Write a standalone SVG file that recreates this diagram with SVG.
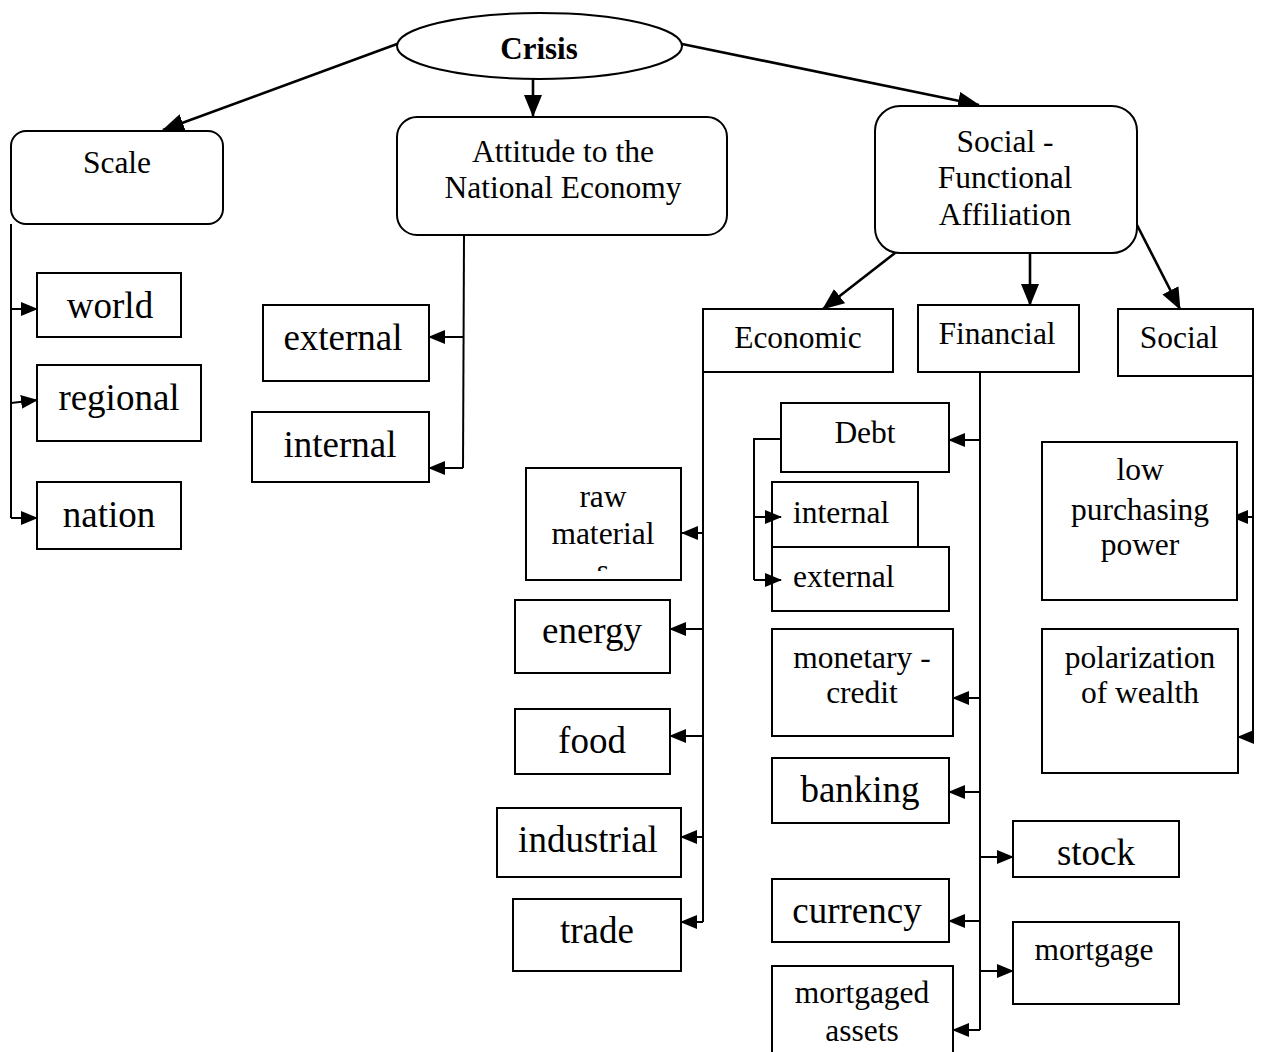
<svg xmlns="http://www.w3.org/2000/svg" width="1261" height="1052" viewBox="0 0 1261 1052">
  <style>
    .box { fill: #fff; stroke: #000; stroke-width: 2; }
    .t { font-family: "Liberation Serif", "Times New Roman", serif; fill: #000; text-anchor: middle; }
    .m { font-size: 31.5px; }
    .l { font-size: 37px; }
    .b { font-weight: bold; font-size: 31px; }
    .main { fill: none; stroke: #000; stroke-width: 2.6; }
    .trunk { fill: none; stroke: #000; stroke-width: 2; }
  </style>
  <defs>
    <marker id="ah" viewBox="0 0 22 18" refX="21" refY="9" markerWidth="22" markerHeight="18" orient="auto" markerUnits="userSpaceOnUse">
      <path d="M0,0 L22,9 L0,18 z" fill="#000"/>
    </marker>
    <marker id="as" viewBox="0 0 17 14" refX="16" refY="7" markerWidth="17" markerHeight="14" orient="auto" markerUnits="userSpaceOnUse">
      <path d="M0,0 L17,7 L0,14 z" fill="#000"/>
    </marker>
    <clipPath id="rawClip">
      <rect x="526" y="468" width="155" height="103"/>
    </clipPath>
  </defs>

  <rect width="1261" height="1052" fill="#fff"/>

  <!-- connectors -->
  <g id="connectors">
    <path class="main" marker-end="url(#ah)" d="M397,44 L163,130"/>
    <path class="main" marker-end="url(#ah)" d="M533,79 L533,116"/>
    <path class="main" marker-end="url(#ah)" d="M682,44 L979,105"/>
    <path class="main" marker-end="url(#ah)" d="M895,253 L823,309"/>
    <path class="main" marker-end="url(#ah)" d="M1030,254 L1030,305"/>
    <path class="main" marker-end="url(#ah)" d="M1137,225 L1180,309"/>

    <!-- scale branch -->
    <path class="trunk" d="M11,224 V518"/>
    <path class="trunk" marker-end="url(#as)" d="M11,309 H37"/>
    <path class="trunk" marker-end="url(#as)" d="M11,403 L37,400"/>
    <path class="trunk" marker-end="url(#as)" d="M11,518 H37"/>

    <!-- national economy branch -->
    <path class="trunk" d="M464,236 L463,468"/>
    <path class="trunk" marker-end="url(#as)" d="M463,337 H429"/>
    <path class="trunk" marker-end="url(#as)" d="M463,468 H429"/>

    <!-- economic branch -->
    <path class="trunk" d="M703,372 V922"/>
    <path class="trunk" marker-end="url(#as)" d="M703,533 H682"/>
    <path class="trunk" marker-end="url(#as)" d="M703,629 H670"/>
    <path class="trunk" marker-end="url(#as)" d="M703,736 H670"/>
    <path class="trunk" marker-end="url(#as)" d="M703,837 H681"/>
    <path class="trunk" marker-end="url(#as)" d="M703,922 H681"/>

    <!-- financial branch -->
    <path class="trunk" d="M980,372 V1030"/>
    <path class="trunk" marker-end="url(#as)" d="M980,440 H949"/>
    <path class="trunk" marker-end="url(#as)" d="M980,698 H953"/>
    <path class="trunk" marker-end="url(#as)" d="M980,792 H949"/>
    <path class="trunk" marker-end="url(#as)" d="M980,857 H1013"/>
    <path class="trunk" marker-end="url(#as)" d="M980,921 H949"/>
    <path class="trunk" marker-end="url(#as)" d="M980,971 H1013"/>
    <path class="trunk" marker-end="url(#as)" d="M980,1030 H953"/>

    <!-- social branch -->
    <path class="trunk" d="M1253,376 V737"/>
    <path class="trunk" marker-end="url(#as)" d="M1253,517 H1232"/>
    <path class="trunk" marker-end="url(#as)" d="M1253,737 H1238"/>
  </g>

  <!-- top level -->
  <g id="crisis">
    <ellipse class="box" cx="539.5" cy="46" rx="142.5" ry="33"/>
    <text class="t b" x="539" y="59">Crisis</text>
  </g>

  <g id="scale">
    <rect class="box" x="11" y="131" width="212" height="93" rx="15"/>
    <text class="t m" x="117" y="173">Scale</text>
  </g>
  <g id="world">
    <rect class="box" x="37" y="273" width="144" height="64"/>
    <text class="t l" x="110" y="318">world</text>
  </g>
  <g id="regional">
    <rect class="box" x="37" y="365" width="164" height="76"/>
    <text class="t l" x="119" y="410">regional</text>
  </g>
  <g id="nation">
    <rect class="box" x="37" y="482" width="144" height="67"/>
    <text class="t l" x="109" y="527">nation</text>
  </g>

  <g id="attitude">
    <rect class="box" x="397" y="117" width="330" height="118" rx="20"/>
    <text class="t m" x="563" y="162">Attitude to the</text>
    <text class="t m" x="563" y="198">National Economy</text>
  </g>
  <g id="external-economy">
    <rect class="box" x="263" y="305" width="166" height="76"/>
    <text class="t l" x="343" y="350">external</text>
  </g>
  <g id="internal-economy">
    <rect class="box" x="252" y="412" width="177" height="70"/>
    <text class="t l" x="340" y="457">internal</text>
  </g>

  <g id="affiliation">
    <rect class="box" x="875" y="106" width="262" height="147" rx="25"/>
    <text class="t m" x="1005" y="152">Social -</text>
    <text class="t m" x="1005" y="188">Functional</text>
    <text class="t m" x="1005" y="225">Affiliation</text>
  </g>

  <g id="economic">
    <rect class="box" x="703" y="309" width="190" height="63"/>
    <text class="t m" x="798" y="348">Economic</text>
  </g>
  <g id="financial">
    <rect class="box" x="918" y="305" width="161" height="67"/>
    <text class="t m" x="997" y="344">Financial</text>
  </g>
  <g id="social">
    <rect class="box" x="1118" y="309" width="135" height="67"/>
    <text class="t m" x="1179" y="348">Social</text>
  </g>

  <!-- economic kinds -->
  <g id="raw-materials">
    <rect class="box" x="526" y="468" width="155" height="112"/>
    <text class="t m" x="603" y="507">raw</text>
    <text class="t m" x="603" y="544">material</text>
    <text class="t m" x="603" y="581" clip-path="url(#rawClip)">s</text>
  </g>
  <g id="energy">
    <rect class="box" x="515" y="600" width="155" height="73"/>
    <text class="t l" x="592" y="643">energy</text>
  </g>
  <g id="food">
    <rect class="box" x="515" y="709" width="155" height="65"/>
    <text class="t l" x="592" y="753">food</text>
  </g>
  <g id="industrial">
    <rect class="box" x="497" y="808" width="184" height="69"/>
    <text class="t l" x="588" y="852">industrial</text>
  </g>
  <g id="trade">
    <rect class="box" x="513" y="899" width="168" height="72"/>
    <text class="t l" x="597" y="943">trade</text>
  </g>

  <!-- financial kinds -->
  <g id="debt">
    <rect class="box" x="781" y="403" width="168" height="69"/>
    <text class="t m" x="865" y="443">Debt</text>
  </g>
  <g id="debt-internal">
    <rect class="box" x="772" y="482" width="146" height="65"/>
    <text class="t m" x="793" y="523" style="text-anchor:start">internal</text>
  </g>
  <g id="debt-external">
    <rect class="box" x="772" y="547" width="177" height="64"/>
    <text class="t m" x="793" y="587" style="text-anchor:start">external</text>
  </g>
  <!-- debt sub-branch, drawn over the two debt boxes -->
  <g id="debt-connectors">
    <path class="trunk" d="M781,439 H754 V580"/>
    <path class="trunk" marker-end="url(#as)" d="M754,517 H781"/>
    <path class="trunk" marker-end="url(#as)" d="M754,580 H781"/>
  </g>
  <g id="monetary-credit">
    <rect class="box" x="772" y="629" width="181" height="107"/>
    <text class="t m" x="862" y="668">monetary -</text>
    <text class="t m" x="862" y="703">credit</text>
  </g>
  <g id="banking">
    <rect class="box" x="772" y="758" width="177" height="65"/>
    <text class="t l" x="860" y="802">banking</text>
  </g>
  <g id="currency">
    <rect class="box" x="772" y="879" width="177" height="63"/>
    <text class="t l" x="857" y="923">currency</text>
  </g>
  <g id="mortgaged-assets">
    <rect class="box" x="772" y="966" width="181" height="100"/>
    <text class="t m" x="862" y="1003">mortgaged</text>
    <text class="t m" x="862" y="1041">assets</text>
  </g>
  <g id="stock">
    <rect class="box" x="1013" y="821" width="166" height="56"/>
    <text class="t l" x="1096" y="865">stock</text>
  </g>
  <g id="mortgage">
    <rect class="box" x="1013" y="922" width="166" height="82"/>
    <text class="t m" x="1094" y="960">mortgage</text>
  </g>

  <!-- social kinds -->
  <g id="purchasing-power">
    <rect class="box" x="1042" y="442" width="195" height="158"/>
    <text class="t m" x="1140" y="480">low</text>
    <text class="t m" x="1140" y="520">purchasing</text>
    <text class="t m" x="1140" y="555">power</text>
  </g>
  <g id="wealth-polarization">
    <rect class="box" x="1042" y="629" width="196" height="144"/>
    <text class="t m" x="1140" y="668">polarization</text>
    <text class="t m" x="1140" y="703">of wealth</text>
  </g>
</svg>
